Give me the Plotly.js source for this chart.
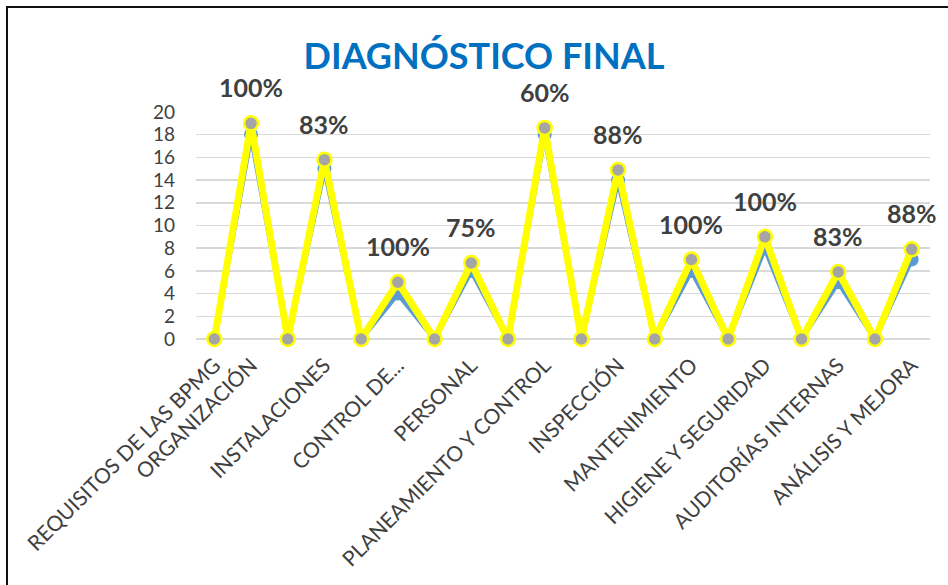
<!DOCTYPE html>
<html>
<head>
<meta charset="utf-8">
<script src="https://cdn.plot.ly/plotly-3.0.1.min.js"></script>
<style>
  html, body { margin: 0; padding: 0; background: #ffffff; }
  #wrap { position: relative; width: 948px; height: 585px; }
  #chart { width: 948px; height: 585px; }
  #frame { position: absolute; left: 6px; top: 6px; right: 0; bottom: 0;
           border-top: 2px solid #111; border-left: 2px solid #111; pointer-events: none; }
</style>
</head>
<body>
<div id="wrap">
  <div id="chart"></div>
  <div id="frame"></div>
</div>
<script>
// Category labels (one point per row; separator rows carry no label)
const categories = [
  "REQUISITOS DE LAS BPMG", "ORGANIZACIÓN", "", "INSTALACIONES", "", "CONTROL DE...",
  "", "PERSONAL", "", "PLANEAMIENTO Y CONTROL", "", "INSPECCIÓN", "", "MANTENIMIENTO",
  "", "HIGIENE Y SEGURIDAD", "", "AUDITORÍAS INTERNAS", "", "ANÁLISIS Y MEJORA"
];

// Obtained score per row
const obtenido = [0, 18, 0, 15, 0, 4, 0, 6, 0, 18, 0, 14, 0, 6, 0, 8, 0, 5, 0, 7];
// Maximum score per row
const maximo   = [0, 19, 0, 15.8, 0, 5, 0, 6.7, 0, 18.6, 0, 14.9, 0, 7, 0, 9, 0, 5.9, 0, 7.9];
// Compliance percentage shown above each section
const cumplimiento = ["", "100%", "", "83%", "", "100%", "", "75%", "", "60%", "", "88%",
                      "", "100%", "", "100%", "", "83%", "", "88%"];

const idx = categories.map((_, i) => i);
const FONT = "Lato, 'Open Sans', sans-serif";

const traces = [
  {
    x: idx, y: obtenido, type: "scatter", mode: "lines+markers",
    line: { color: "#5B9BD5", width: 5 },
    marker: { color: "#5B9BD5", size: 14 },
    cliponaxis: false, hoverinfo: "skip"
  },
  {
    x: idx, y: maximo, type: "scatter", mode: "lines+markers",
    line: { color: "#FFFF00", width: 7 },
    marker: { color: "#A5A5A5", size: 14, line: { color: "#FFFF00", width: 2.5 } },
    cliponaxis: false, hoverinfo: "skip"
  }
];

const annotations = [];
cumplimiento.forEach((t, i) => {
  if (!t) return;
  annotations.push({
    x: i, y: maximo[i], xref: "x", yref: "y", text: t, showarrow: false,
    yshift: 36, font: { family: FONT, size: 25, color: "#404040", weight: "bold" }
  });
});

const tickvals = idx.filter(i => categories[i] !== "");
const ticktext = tickvals.map(i => categories[i]);

const layout = {
  width: 948, height: 585,
  margin: { l: 196, r: 18, t: 112, b: 246 },
  paper_bgcolor: "#ffffff", plot_bgcolor: "#ffffff",
  showlegend: false,
  title: {
    text: "<b>DIAGNÓSTICO FINAL</b>",
    font: { family: FONT, size: 36, color: "#0070C0" },
    x: 484 / 948, xanchor: "center", xref: "container",
    y: 1 - 56 / 585, yanchor: "middle", yref: "container"
  },
  xaxis: {
    range: [-0.5, 19.5], tickvals: tickvals, ticktext: ticktext,
    tickangle: -45, showgrid: false, zeroline: false, showline: false,
    ticks: "", ticklabelstandoff: 9,
    tickfont: { family: FONT, size: 21, color: "#404040" }
  },
  yaxis: {
    range: [0, 20], dtick: 2, tick0: 0,
    showgrid: true, gridcolor: "#D9D9D9", gridwidth: 1.5,
    zeroline: true, zerolinecolor: "#D9D9D9", zerolinewidth: 1.5,
    showline: false, ticks: "", ticklabelstandoff: 20,
    tickfont: { family: FONT, size: 19, color: "#404040" }
  },
  annotations: annotations
};

Plotly.newPlot("chart", traces, layout, { staticPlot: true, displayModeBar: false });
</script>
</body>
</html>
